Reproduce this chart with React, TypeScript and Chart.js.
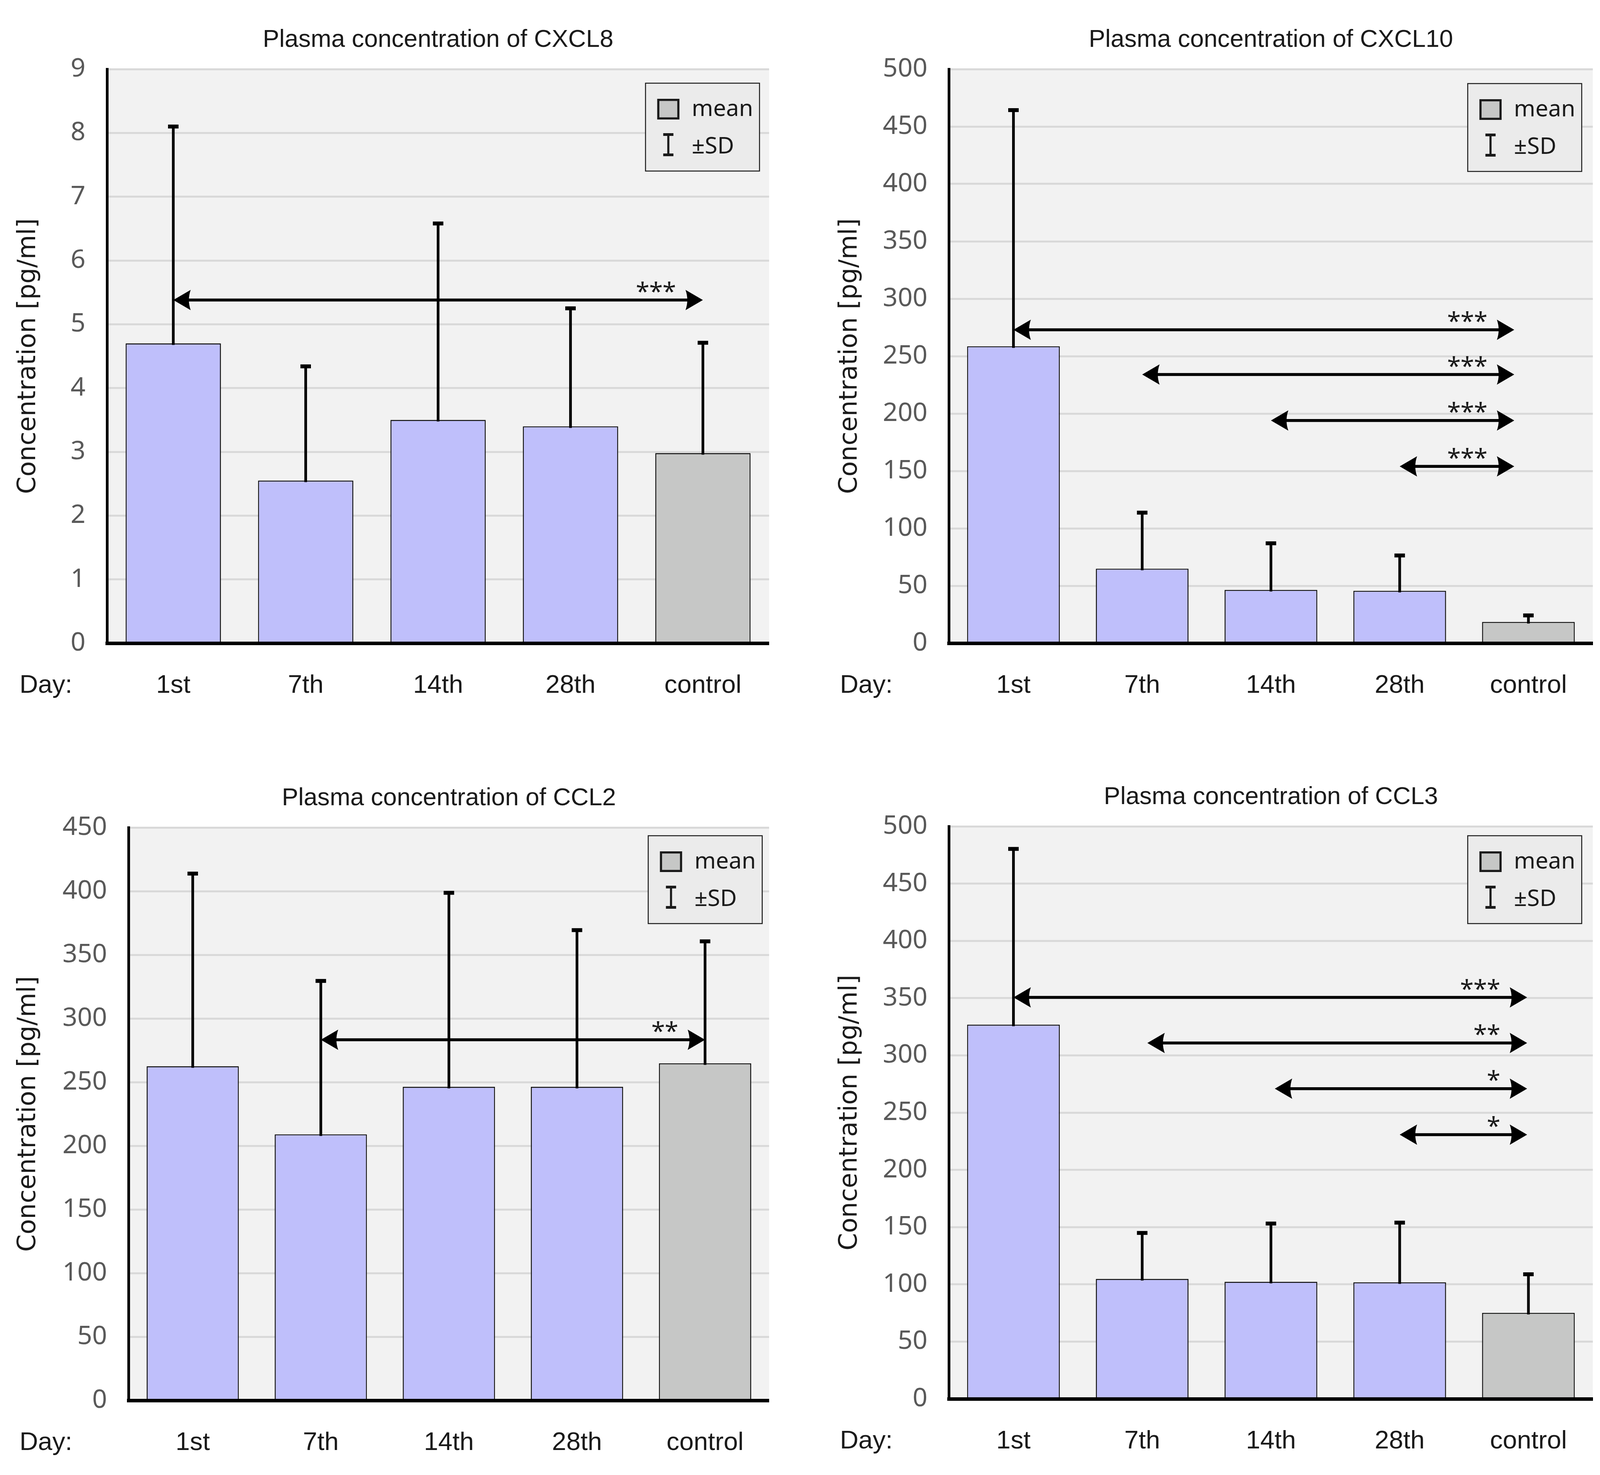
import React, { useEffect, useRef, useState } from 'react';
import { Chart, registerables } from 'chart.js';

Chart.register(...registerables);

// ---------- data ----------
const dayLabels = ['1st', '7th', '14th', '28th', 'control'];

const cxcl8Mean = [4.7, 2.55, 3.5, 3.4, 2.98];
const cxcl8Sd = [3.4, 1.79, 3.08, 1.85, 1.73];
const cxcl8Axis = [0, 9, 1];
const cxcl8PairFrom = [0];
const cxcl8PairTo = [4];
const cxcl8PairLevel = [5.38];
const cxcl8PairStars = ['***'];

const cxcl10Mean = [258.6, 64.9, 46.4, 45.6, 18.5];
const cxcl10Sd = [205.7, 48.8, 40.6, 30.8, 5.7];
const cxcl10Axis = [0, 500, 50];
const cxcl10PairFrom = [0, 1, 2, 3];
const cxcl10PairTo = [3.89, 3.89, 3.89, 3.89];
const cxcl10PairLevel = [273, 234, 194, 154];
const cxcl10PairStars = ['***', '***', '***', '***'];

const ccl2Mean = [262.5, 209, 246.3, 246.3, 264.8];
const ccl2Sd = [151.3, 120.5, 152.4, 123.1, 95.8];
const ccl2Axis = [0, 450, 50];
const ccl2PairFrom = [1];
const ccl2PairTo = [4];
const ccl2PairLevel = [283.3];
const ccl2PairStars = ['**'];

const ccl3Mean = [326.8, 104.7, 102.2, 101.8, 75.1];
const ccl3Sd = [153.5, 40.2, 50.9, 52.1, 33.7];
const ccl3Axis = [0, 500, 50];
const ccl3PairFrom = [0, 1.04, 2.03, 3];
const ccl3PairTo = [3.99, 3.99, 3.99, 3.99];
const ccl3PairLevel = [350.6, 310.8, 270.9, 230.7];
const ccl3PairStars = ['***', '**', '*', '*'];

// ---------- styling ----------
const BAR_FILL = '#BFBFFB';
const CONTROL_FILL = '#C6C7C6';
const INK = '#1a1a1a';
const PAGE_W = 5334;
const PAGE_H = 3777;

type Panel = {
  key: string;
  title: string;
  mean: number[];
  sd: number[];
  axis: number[];
  from: number[];
  to: number[];
  level: number[];
  stars: string[];
  box: { left: number; top: number; width: number; height: number };
  area: { left: number; top: number; bottom: number; rightPad: number };
  yTitleX: number;
  dayX: number;
  legendRight: number;
  legendTop: number;
};

type Geo = { sx: number; sy: number; fs: number };

// layout numbers are in the reference's 5334 x 3777 frame
const panels: Panel[] = [
  {
    key: 'cxcl8', title: 'Plasma concentration of CXCL8',
    mean: cxcl8Mean, sd: cxcl8Sd, axis: cxcl8Axis,
    from: cxcl8PairFrom, to: cxcl8PairTo, level: cxcl8PairLevel, stars: cxcl8PairStars,
    box: { left: 0, top: 0, width: 2667, height: 1888 },
    area: { left: 357, top: 177, bottom: 1647, rightPad: 103 },
    yTitleX: 95, dayX: 65, legendRight: 32, legendTop: 36,
  },
  {
    key: 'cxcl10', title: 'Plasma concentration of CXCL10',
    mean: cxcl10Mean, sd: cxcl10Sd, axis: cxcl10Axis,
    from: cxcl10PairFrom, to: cxcl10PairTo, level: cxcl10PairLevel, stars: cxcl10PairStars,
    box: { left: 2667, top: 0, width: 2667, height: 1888 },
    area: { left: 497, top: 177, bottom: 1647, rightPad: 24 },
    yTitleX: 167, dayX: 133, legendRight: 37, legendTop: 37,
  },
  {
    key: 'ccl2', title: 'Plasma concentration of CCL2',
    mean: ccl2Mean, sd: ccl2Sd, axis: ccl2Axis,
    from: ccl2PairFrom, to: ccl2PairTo, level: ccl2PairLevel, stars: ccl2PairStars,
    box: { left: 0, top: 1888, width: 2667, height: 1889 },
    area: { left: 429, top: 231, bottom: 1698, rightPad: 103 },
    yTitleX: 95, dayX: 65, legendRight: 23, legendTop: 21,
  },
  {
    key: 'ccl3', title: 'Plasma concentration of CCL3',
    mean: ccl3Mean, sd: ccl3Sd, axis: ccl3Axis,
    from: ccl3PairFrom, to: ccl3PairTo, level: ccl3PairLevel, stars: ccl3PairStars,
    box: { left: 2667, top: 1888, width: 2667, height: 1889 },
    area: { left: 497, top: 228, bottom: 1694, rightPad: 24 },
    yTitleX: 167, dayX: 133, legendRight: 37, legendTop: 24,
  },
];

const TITLE_SIZE = 72;
const TITLE_GAP = 74;
const XTICK_SIZE = 75;
const XTICK_CENTER = 109;
const YTICK_SIZE = 76;
const YTITLE_SIZE = 64;
const LEGEND_SIZE = 67;

function drawHead(ctx: CanvasRenderingContext2D, tipX: number, y: number, dir: number, g: Geo) {
  const len = 58 * g.sx;
  const half = 26 * g.sy;
  ctx.beginPath();
  ctx.moveTo(tipX, y);
  ctx.lineTo(tipX - dir * len, y - half);
  ctx.quadraticCurveTo(tipX - dir * (len - 12 * g.sx), y, tipX - dir * len, y + half);
  ctx.closePath();
  ctx.fill();
}

function makePlugin(p: Panel, g: Geo) {
  const H = (v: number) => v * g.sx;
  const V = (v: number) => v * g.sy;
  const F = (v: number) => v * g.fs;
  const xTickPad = V(XTICK_CENTER) - F(XTICK_SIZE) * 0.6;
  return {
    id: 'decor_' + p.key,
    beforeDraw(chart: any) {
      const { ctx, chartArea: a } = chart;
      ctx.save();
      ctx.fillStyle = '#F2F2F2';
      ctx.fillRect(a.left, a.top, a.right - a.left, a.bottom - a.top);
      ctx.restore();
    },
    afterDatasetsDraw(chart: any) {
      const ctx: CanvasRenderingContext2D = chart.ctx;
      const xs = chart.scales.x;
      const ys = chart.scales.y;
      ctx.save();
      ctx.fillStyle = '#000';
      ctx.strokeStyle = '#000';
      // error bars (+SD)
      p.mean.forEach((m, i) => {
        const px = xs.getPixelForValue(i);
        const y0 = ys.getPixelForValue(m);
        const y1 = ys.getPixelForValue(m + p.sd[i]);
        ctx.lineWidth = H(9);
        ctx.lineCap = 'butt';
        ctx.beginPath();
        ctx.moveTo(px, y0 + V(4));
        ctx.lineTo(px, y1);
        ctx.stroke();
        ctx.fillRect(px - H(17.5), y1 - V(5), H(35), V(10));
      });
      // significance arrows with stars
      ctx.font = '100px "Noto Sans"';
      const m = ctx.measureText('*');
      const gh = m.actualBoundingBoxAscent + m.actualBoundingBoxDescent;
      const k0 = gh > 0 ? F(33) / gh : 0.9;
      const starSize = 100 * k0;
      const starDesc = m.actualBoundingBoxDescent * k0;
      p.from.forEach((f, i) => {
        const xL = xs.getPixelForValue(f);
        const xR = xs.getPixelForValue(p.to[i]);
        const yy = ys.getPixelForValue(p.level[i]);
        ctx.lineWidth = V(7.5);
        ctx.beginPath();
        ctx.moveTo(xL + H(45), yy);
        ctx.lineTo(xR - H(45), yy);
        ctx.stroke();
        drawHead(ctx, xL, yy, -1, g);
        drawHead(ctx, xR, yy, 1, g);
        ctx.font = `${starSize}px "Noto Sans"`;
        ctx.fillStyle = INK;
        ctx.textAlign = 'center';
        ctx.textBaseline = 'alphabetic';
        const n = p.stars[i].length;
        const base = yy - V(20) - starDesc;
        for (let k = 0; k < n; k++) {
          const cx = xR - H(112) - (n - 1 - k) * H(44.5);
          ctx.fillText('*', cx, base);
        }
        ctx.fillStyle = '#000';
      });
      ctx.restore();
    },
    afterDraw(chart: any) {
      const ctx: CanvasRenderingContext2D = chart.ctx;
      const a = chart.chartArea;
      const xs = chart.scales.x;
      ctx.save();
      // legend box
      const w = H(380);
      const h = V(225);
      const bx = a.right - H(p.legendRight) - w;
      const by = a.top + V(p.legendTop);
      ctx.fillStyle = '#EBEBEB';
      ctx.fillRect(bx, by, w, h);
      ctx.strokeStyle = INK;
      ctx.lineWidth = 2.5;
      ctx.strokeRect(bx, by, w, h);
      // swatch
      ctx.fillStyle = CONTROL_FILL;
      ctx.fillRect(bx + H(39), by + V(40), H(74), V(53));
      ctx.lineWidth = 5.5;
      ctx.strokeRect(bx + H(39) + 2.75, by + V(40) + 2.75, H(74) - 5.5, V(53) - 5.5);
      // SD icon
      ctx.fillStyle = INK;
      const ic = bx + H(76);
      ctx.fillRect(ic - H(3.5), by + V(128), H(7), V(59));
      ctx.fillRect(ic - H(17), by + V(128), H(34), V(7));
      ctx.fillRect(ic - H(17), by + V(180), H(34), V(7));
      ctx.font = `${F(LEGEND_SIZE)}px "Noto Sans"`;
      ctx.textAlign = 'left';
      ctx.textBaseline = 'alphabetic';
      ctx.fillText('mean', bx + H(154), by + V(84));
      ctx.fillText('\u00B1SD', bx + H(154), by + V(180));
      // Day:
      ctx.font = `${F(XTICK_SIZE)}px "Liberation Sans"`;
      ctx.textBaseline = 'middle';
      ctx.fillText('Day:', H(p.dayX), xs.top + xTickPad + F(XTICK_SIZE) * 0.6);
      ctx.restore();
    },
  };
}

function buildConfig(p: Panel, g: Geo): any {
  const H = (v: number) => v * g.sx;
  const V = (v: number) => v * g.sy;
  const F = (v: number) => v * g.fs;
  const fills = p.mean.map((_, i) => (i === p.mean.length - 1 ? CONTROL_FILL : BAR_FILL));
  const titleHalf = F(TITLE_SIZE) * 0.6;
  const yTitleSize = YTITLE_SIZE * g.sy;
  const canvasH = Math.round(V(p.box.top + p.box.height)) - Math.round(V(p.box.top));
  return {
    type: 'bar',
    data: {
      labels: dayLabels,
      datasets: [
        {
          data: p.mean,
          backgroundColor: fills,
          borderColor: '#111',
          borderWidth: 3 * g.fs,
          categoryPercentage: 1,
          barPercentage: 0.72,
        },
      ],
    },
    options: {
      animation: false,
      responsive: false,
      devicePixelRatio: 1,
      layout: { padding: { top: 0, left: 0, bottom: 0, right: H(p.area.rightPad) } },
      plugins: {
        legend: { display: false },
        tooltip: { enabled: false },
        title: {
          display: true,
          text: p.title,
          fullSize: false,
          color: INK,
          font: { family: 'Liberation Sans', size: F(TITLE_SIZE), weight: 'normal' },
          padding: { top: V(p.area.top) - V(TITLE_GAP) - titleHalf, bottom: V(TITLE_GAP) - titleHalf },
        },
      },
      scales: {
        x: {
          type: 'category',
          offset: true,
          grid: { display: false, drawTicks: false },
          border: { display: true, color: '#000', width: V(9), z: 1 },
          ticks: {
            color: INK,
            font: { family: 'Liberation Sans', size: F(XTICK_SIZE) },
            padding: V(XTICK_CENTER) - F(XTICK_SIZE) * 0.6,
            maxRotation: 0,
            autoSkip: false,
          },
          afterFit: (s: any) => {
            s.height = canvasH - V(p.area.bottom);
          },
        },
        y: {
          min: p.axis[0],
          max: p.axis[1],
          ticks: {
            stepSize: p.axis[2],
            color: '#595959',
            font: { family: 'Noto Sans', size: F(YTICK_SIZE) },
            padding: H(72),
          },
          grid: { color: '#D9D9D9', lineWidth: V(5), drawTicks: false },
          border: { display: true, color: '#000', width: H(9), z: 1 },
          title: {
            display: true,
            text: 'Concentration [pg/ml]',
            color: INK,
            font: { family: 'DejaVu Sans', size: yTitleSize },
            padding: { top: H(p.yTitleX) - yTitleSize * 0.6, bottom: 0 },
          },
          afterFit: (s: any) => {
            s.width = H(p.area.left);
          },
        },
      },
    },
    plugins: [makePlugin(p, g)],
  };
}

function ChartPanel({ p, g }: { p: Panel; g: Geo }) {
  const ref = useRef<HTMLCanvasElement>(null);
  const left = Math.round(p.box.left * g.sx);
  const top = Math.round(p.box.top * g.sy);
  const width = Math.round((p.box.left + p.box.width) * g.sx) - left;
  const height = Math.round((p.box.top + p.box.height) * g.sy) - top;
  useEffect(() => {
    if (!ref.current) return;
    const chart = new Chart(ref.current, buildConfig(p, g));
    return () => chart.destroy();
  }, [p, g]);
  return (
    <canvas
      ref={ref}
      width={width}
      height={height}
      style={{ position: 'absolute', left, top, width, height, display: 'block' }}
    />
  );
}

function measureGeo(): Geo {
  const vw = window.innerWidth || PAGE_W;
  const vh = window.innerHeight || PAGE_H;
  const sx = Math.min(vw, PAGE_W) / PAGE_W;
  const sy = Math.min(vh, PAGE_H) / PAGE_H;
  return { sx, sy, fs: Math.sqrt(sx * sy) };
}

export default function App() {
  const [g] = useState<Geo>(() => measureGeo());
  useEffect(() => {
    document.body.style.margin = '0';
    document.body.style.overflow = 'hidden';
  }, []);
  return (
    <div
      style={{
        position: 'absolute',
        left: 0,
        top: 0,
        width: Math.round(PAGE_W * g.sx),
        height: Math.round(PAGE_H * g.sy),
        background: '#ffffff',
        overflow: 'hidden',
      }}
    >
      {panels.map((p) => (
        <ChartPanel key={p.key} p={p} g={g} />
      ))}
    </div>
  );
}
